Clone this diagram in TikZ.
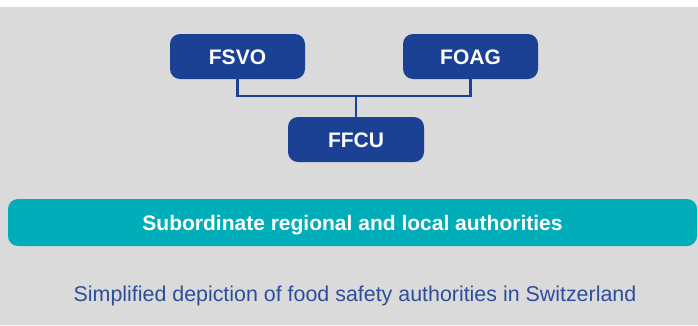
\documentclass[tikz,border=0pt]{standalone}
\usepackage{fontspec}
\setmainfont{Liberation Sans}
\definecolor{bgray}{HTML}{DADADA}
\definecolor{boxblue}{HTML}{1A4193}
\definecolor{teal}{HTML}{00AEBA}
\definecolor{capblue}{HTML}{2C4E9C}
\tikzset{
  agency/.style={fill=boxblue, rounded corners=10pt, minimum width=135pt, minimum height=45pt,
    inner sep=0pt, text height=15pt, text depth=0pt, text=white, font=\fontsize{21}{25}\selectfont\bfseries},
  link/.style={draw=boxblue, line width=2.8pt},
  bar/.style={fill=teal, rounded corners=10pt, minimum width=689pt, minimum height=47pt,
    inner sep=0pt, text height=15pt, text depth=0pt, text=white, font=\fontsize{21}{25}\selectfont\bfseries},
  caption/.style={text=capblue, inner sep=0pt, anchor=base, font=\fontsize{21.4}{25}\selectfont}
}
\begin{document}
\begin{tikzpicture}[x=1pt,y=-1pt]
\fill[white] (0,0) rectangle (698,325);
\useasboundingbox (0,0) rectangle (698,325);
\fill[bgray] (0,7) rectangle (698,325);
\node[agency] (fsvo) at (237.5,56.5) {FSVO};
\node[agency] (foag) at (470.5,56.5) {FOAG};
\node[agency, minimum width=136pt] (ffcu) at (356,139.5) {FFCU};
\coordinate (j) at (356,96);
\draw[link] (fsvo.south) |- (j) -| (foag.south);
\draw[link] (j) -- (ffcu.north);
\node[bar] (sub) at (352.5,222.5) {Subordinate regional and local authorities};
\node[caption] (cap) at (355,301) {Simplified depiction of food safety authorities in Switzerland};
\end{tikzpicture}
\end{document}
